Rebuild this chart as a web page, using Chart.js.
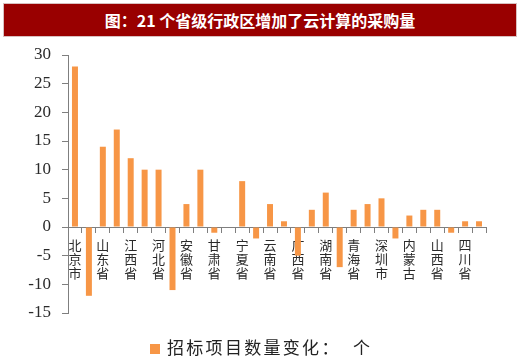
<!DOCTYPE html>
<html>
<head>
<meta charset="utf-8">
<script src="https://cdn.jsdelivr.net/npm/chart.js@4/dist/chart.umd.min.js"></script>
<style>
  html, body { margin: 0; padding: 0; background: #fff; }
  #wrap { position: relative; width: 520px; height: 363px; overflow: hidden; }
  #title {
    position: absolute; left: 3px; top: 3px; width: 514px; height: 34px;
    box-sizing: border-box; background: #990000; border: 1px solid #d8c0c0;
    color: #fff; font: bold 16px "Noto Sans CJK SC", sans-serif;
    text-align: center; line-height: 32px;
  }
  #bid_chart { position: absolute; left: 0; top: 0; }
  #legend {
    position: absolute; left: 150px; top: 335px; height: 24px;
    font: 17px "Noto Sans CJK SC", sans-serif; color: #222;
    letter-spacing: 2.3px; line-height: 24px; white-space: pre;
  }
  #legend span.box {
    display: inline-block; width: 10px; height: 10px; background: #F79646;
    margin-right: 7px; vertical-align: 0px;
  }
</style>
</head>
<body>
<div id="wrap">
  <canvas id="bid_chart" width="520" height="363"></canvas>
  <div id="title">图：21 个省级行政区增加了云计算的采购量</div>
  <div id="legend"><span class="box"></span><span id="legend_text"></span></div>
</div>
<script>
// 招标项目数量变化 by province (only every other label is shown on the axis)

const ctx_bid = document.getElementById("bid_chart").getContext("2d");

const seriesName = '招标项目数量变化：  个';
const xLabels = ['北京市','','山东省','','江西省','','河北省','','安徽省','',
                 '甘肃省','','宁夏省','','云南省','','广西省','','湖南省','',
                 '青海省','','深圳市','','内蒙古','','山西省','','四川省',''];
const bidChange = [28,-12,14,17,12,10,10,-11,4,10,
                   -1,0,8,-2,4,1,-5,3,6,-7,
                   3,4,5,-2,2,3,3,-1,1,1];
const yTicks = [-15,-10,-5,0,5,10,15,20,25,30];

const barColor = '#F79646';
const axisColor = '#7f7f7f';

document.getElementById('legend_text').textContent = seriesName;

let bid_chart = new Chart(ctx_bid, {
    type: 'bar',
    data: {
        labels: xLabels,
        datasets: [{
            label: seriesName,
            data: bidChange,
            backgroundColor: barColor,
            barPercentage: 0.43,
            categoryPercentage: 1.0,
        }]
    },
    options: {
        responsive: false,
        animation: false,
        devicePixelRatio: 1,
        layout: {
            padding: { left: 0, top: 55, right: 34, bottom: 50 }
        },
        plugins: {
            legend: { display: false },
            tooltip: { enabled: false },
        },
        scales: {
            x: {
                position: { y: 0 },
                offset: true,
                grid: {
                    display: true,
                    drawOnChartArea: false,
                    offset: true,
                    tickLength: 5,
                    color: axisColor,
                },
                border: { display: true, color: axisColor, width: 1 },
                ticks: {
                    autoSkip: false,
                    maxRotation: 0,
                    minRotation: 0,
                    padding: 6,
                    color: '#2a2a2a',
                    font: { family: '"Noto Sans CJK SC", sans-serif', size: 13, lineHeight: 1.08 },
                    callback: function (value, index) {
                        let name = xLabels[index];
                        if (!name) return '';
                        // stack the characters vertically
                        return name.split('');
                    }
                },
                afterFit: function (scale) {
                    scale.height = 1;
                }
            },
            y: {
                min: yTicks[0],
                max: yTicks[yTicks.length - 1],
                afterBuildTicks: function (scale) {
                    scale.ticks = yTicks.map(v => ({ value: v }));
                },
                grid: {
                    display: true,
                    drawOnChartArea: false,
                    tickLength: 6,
                    color: axisColor,
                },
                border: { display: true, color: axisColor, width: 1 },
                ticks: {
                    padding: 11,
                    color: '#2a2a2a',
                    font: { family: '"Liberation Serif", serif', size: 17 },
                },
                afterFit: function (scale) {
                    scale.width = 68;
                }
            }
        }
    }
});
</script>
</body>
</html>
